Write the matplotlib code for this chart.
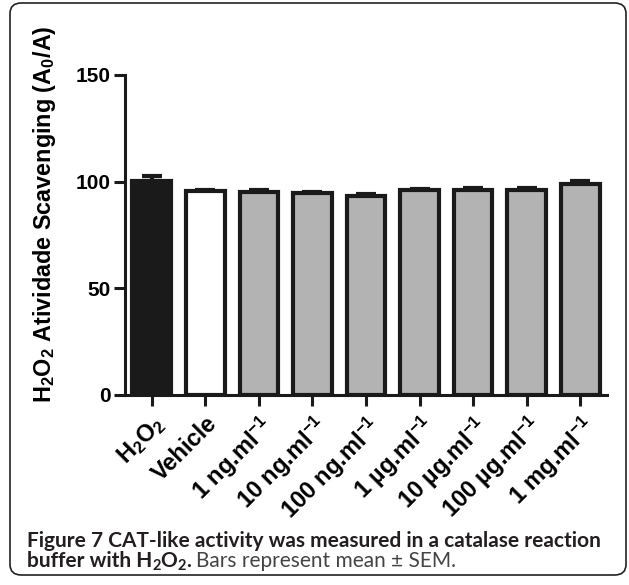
import matplotlib
matplotlib.use("Agg")
import matplotlib.pyplot as plt
from matplotlib.patches import FancyBboxPatch

categories = ["H$_\\mathbf{2}$O$_\\mathbf{2}$", "Vehicle", "1 ng.ml$^{\\mathbf{-1}}$", "10 ng.ml$^{\\mathbf{-1}}$",
              "100 ng.ml$^{\\mathbf{-1}}$", "1 µg.ml$^{\\mathbf{-1}}$", "10 µg.ml$^{\\mathbf{-1}}$",
              "100 µg.ml$^{\\mathbf{-1}}$", "1 mg.ml$^{\\mathbf{-1}}$"]
values = [100.2, 95.8, 95.0, 94.5, 93.4, 96.1, 96.3, 96.2, 98.8]
errors = [2.5, 0.3, 1.3, 0.8, 1.0, 0.5, 0.6, 1.0, 1.4]
colors = ["#1a1a1a", "#ffffff", "#b3b3b3", "#b3b3b3", "#b3b3b3", "#b3b3b3", "#b3b3b3", "#b3b3b3", "#b3b3b3"]
yticks = [0, 50, 100, 150]

plt.rcParams['font.family'] = ['Liberation Sans', 'DejaVu Sans']
plt.rcParams['mathtext.fontset'] = 'custom'
plt.rcParams['mathtext.rm'] = 'Liberation Sans:bold'
plt.rcParams['mathtext.bf'] = 'Liberation Sans:bold'
plt.rcParams['mathtext.default'] = 'bf'

W, H = 629, 585
fig = plt.figure(figsize=(W / 100, H / 100), dpi=100)

# rounded frame
frame = FancyBboxPatch((10 / W, 10 / H), 616 / W, 572 / H,
                       boxstyle="round,pad=0,rounding_size=0.018",
                       transform=fig.transFigure, fill=False, edgecolor="#222222", lw=1.2)
fig.patches.append(frame)

ax = fig.add_axes([125 / W, 1 - 395 / H, (607 - 125) / W, (395 - 75) / H])
x = list(range(len(values)))
ax.bar(x, values, width=0.72, color=colors, edgecolor="#1a1a1a", linewidth=3.0, zorder=2)
ax.errorbar(x, values, yerr=[[0] * len(errors), errors], fmt="none", ecolor="#1a1a1a",
            elinewidth=3.0, capsize=7, capthick=3.0, zorder=1)

ax.set_xlim(-0.5, 8.5)
ax.set_ylim(0, 150)
ax.set_yticks(yticks)
ax.set_yticklabels([str(v) for v in yticks], fontsize=15, fontweight='bold')
ax.set_xticks(x)
ax.set_xticklabels(categories, rotation=45, ha='right', rotation_mode='anchor',
                   fontsize=17, fontweight='bold')
for s in ['top', 'right']:
    ax.spines[s].set_visible(False)
for s in ['left', 'bottom']:
    ax.spines[s].set_linewidth(2.2)
    ax.spines[s].set_color("#1a1a1a")
ax.tick_params(axis='both', width=2.2, length=8, color="#1a1a1a", pad=2)
ax.tick_params(axis='x', pad=4)

fig.text(45 / W, 1 - 214 / H, "H$_\\mathbf{2}$O$_\\mathbf{2}$ Atividade Scavenging (A$_\\mathbf{0}$/A)",
         rotation=90, ha='center', va='center', fontsize=16.8, fontweight='bold')

# caption
renderer = fig.canvas.get_renderer()
cap_font = ['Lato', 'DejaVu Sans']
t1 = fig.text(27 / W, 1 - 547 / H, "Figure 7 CAT-like activity was measured in a catalase reaction",
              fontsize=12, fontweight='bold', family=cap_font, color="#231f20", va='baseline')
bb = t1.get_window_extent(renderer)
fs = 12 * (597 - 27) / bb.width
t1.set_fontsize(fs)


def seg(xpx, ybase, s, size, weight, color, dy=0.0):
    t = fig.text(xpx / W, 1 - (ybase - dy) / H, s, fontsize=size, fontweight=weight,
                 family=cap_font, color=color, va='baseline')
    b = t.get_window_extent(renderer)
    return b.x1


y2 = 567
xp = 27
xp = seg(xp, y2, "buffer with H", fs, 'bold', "#231f20")
xp = seg(xp, y2, "2", fs * 0.7, 'bold', "#231f20", dy=-3)
xp = seg(xp, y2, "O", fs, 'bold', "#231f20")
xp = seg(xp, y2, "2", fs * 0.7, 'bold', "#231f20", dy=-3)
xp = seg(xp, y2, ".", fs, 'bold', "#231f20")
xp = seg(xp + 5, y2, "Bars represent mean ± SEM.", fs, 'normal', "#444444")

fig.savefig("out.png", dpi=100)
